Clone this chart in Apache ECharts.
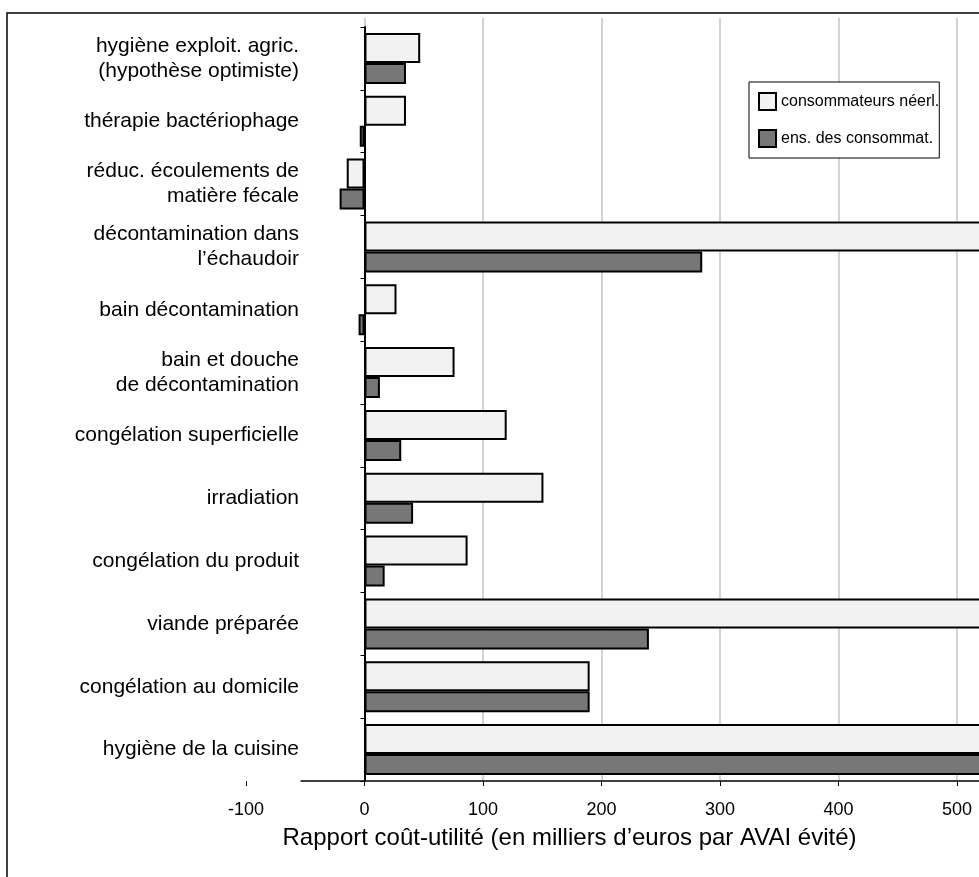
<!DOCTYPE html>
<html>
<head>
<meta charset="utf-8">
<script src="https://cdn.jsdelivr.net/npm/echarts@6/dist/echarts.min.js"></script>
<style>
html,body{margin:0;padding:0;background:#fff;}
#chart{width:979px;height:877px;}
</style>
</head>
<body>
<div id="chart"></div>
<script>
// ---- data ----
const categories = [
  'hygiène exploit. agric.\n(hypothèse optimiste)',
  'thérapie bactériophage',
  'réduc. écoulements de\nmatière fécale',
  'décontamination dans\nl’échaudoir',
  'bain décontamination',
  'bain et douche\nde décontamination',
  'congélation superficielle',
  'irradiation',
  'congélation du produit',
  'viande préparée',
  'congélation au domicile',
  'hygiène de la cuisine'
];
const seriesNames = ['consommateurs néerl.', 'ens. des consommat.'];
const dutchConsumers = [47, 35, -15, 650, 27, 76, 120, 151, 87, 650, 190, 650];
const allConsumers   = [35, -4, -21, 285, -5, 13, 31, 41, 17, 240, 190, 650];
const xMin = -100, xMax = 600, xStep = 100;
const xTitle = 'Rapport coût-utilité (en milliers d’euros par AVAI évité)';

// ---- layout ----
const FONT = '"Liberation Sans", Arial, Helvetica, sans-serif';
const GRID_LEFT = 246, GRID_RIGHT = -96.5, GRID_TOP = 27, GRID_BOTTOM = 96;
const H = 877;

const chart = echarts.init(document.getElementById('chart'), null, {renderer: 'canvas'});

const option = {
  backgroundColor: '#fff',
  animation: false,
  textStyle: {fontFamily: FONT, color: '#000'},
  grid: [
    {left: GRID_LEFT, right: GRID_RIGHT, top: GRID_TOP, bottom: GRID_BOTTOM, containLabel: false, outerBoundsMode: 'none'},
    {left: GRID_LEFT, right: GRID_RIGHT, top: 18, bottom: GRID_BOTTOM, containLabel: false, outerBoundsMode: 'none'}
  ],
  legend: {
    data: seriesNames,
    orient: 'vertical',
    icon: 'rect',
    left: 749, top: 82,
    padding: [10, 0, 10, 9],
    itemWidth: 17, itemHeight: 17, itemGap: 18,
    backgroundColor: '#fff',
    borderColor: '#000', borderWidth: 1,
    textStyle: {fontFamily: FONT, fontSize: 16, color: '#000', padding: [0, 0, 8, 0]},
    itemStyle: {borderColor: '#000', borderWidth: 2}
  },
  xAxis: [
    {
      gridIndex: 0, type: 'value', min: xMin, max: xMax, interval: xStep,
      axisLine: {show: false},
      axisTick: {show: true, length: 5, lineStyle: {color: '#000', width: 1}},
      axisLabel: {fontFamily: FONT, fontSize: 18, color: '#000', margin: 20},
      splitLine: {show: false}
    },
    {
      gridIndex: 1, type: 'value', min: xMin, max: xMax, interval: xStep,
      axisLine: {show: false}, axisTick: {show: false}, axisLabel: {show: false},
      splitLine: {show: true, showMinLine: false, lineStyle: {color: '#c4c4c4', width: 1.5}}
    }
  ],
  yAxis: [
    {
      gridIndex: 0, type: 'category', data: categories, inverse: true,
      axisLine: {show: true, onZero: true, lineStyle: {color: '#000', width: 2}},
      axisTick: {show: true, length: 4, lineStyle: {color: '#000', width: 1}},
      axisLabel: {fontFamily: FONT, fontSize: 21, color: '#000', margin: -53, lineHeight: 25, align: 'right'},
      splitLine: {show: false},
      z: 5
    },
    {gridIndex: 1, type: 'value', show: false, min: 0, max: 1}
  ],
  series: [
    {
      name: seriesNames[0], type: 'bar', xAxisIndex: 0, yAxisIndex: 0,
      data: dutchConsumers, barWidth: 30, barGap: '0%',
      itemStyle: {color: '#f2f2f2', borderColor: '#000', borderWidth: 2},
      z: 3
    },
    {
      name: seriesNames[1], type: 'bar', xAxisIndex: 0, yAxisIndex: 0,
      data: allConsumers, barWidth: 21, barGap: '0%',
      itemStyle: {color: '#777777', borderColor: '#000', borderWidth: 2},
      z: 3
    }
  ]
};
chart.setOption(option);

// x axis line (starts a bit left of zero, as in the reference), title, outer frame
const axisY = H - GRID_BOTTOM;
const axisStartX = chart.convertToPixel({xAxisIndex: 0}, -54);
const axisEndX = chart.convertToPixel({xAxisIndex: 0}, xMax);
const titleCenterX = chart.convertToPixel({xAxisIndex: 0}, 173);
chart.setOption({
  graphic: [
    {type: 'line', shape: {x1: axisStartX, y1: axisY, x2: axisEndX, y2: axisY},
     style: {stroke: '#000', lineWidth: 1.5}, z: 10},
    {type: 'text', x: titleCenterX, y: 838,
     style: {text: xTitle, fontFamily: FONT, fontSize: 24, fill: '#000', textAlign: 'center', textVerticalAlign: 'middle'}},
    {type: 'rect', shape: {x: 7, y: 13, width: 1100, height: 900},
     style: {fill: 'none', stroke: '#000', lineWidth: 1.5}, z: 20}
  ]
});
</script>
</body>
</html>
